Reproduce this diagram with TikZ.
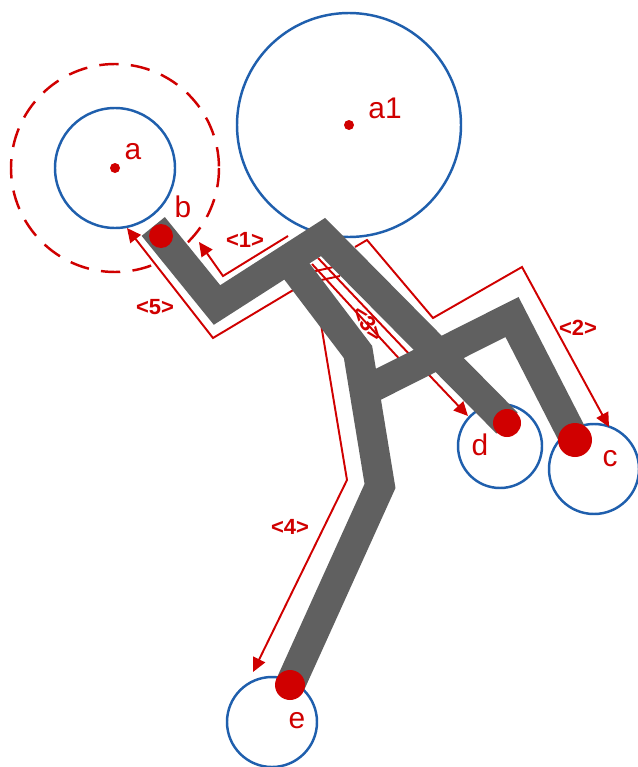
\documentclass[tikz,border=0pt]{standalone}
\usepackage{fontspec}
\setmainfont{Liberation Sans}
\usepackage{tikz}
\usetikzlibrary{backgrounds,arrows.meta}
\definecolor{rtRed}{HTML}{D00000}
\definecolor{rtBlue}{HTML}{1F5FAD}
\definecolor{rtGray}{HTML}{606060}

\begin{document}
\begin{tikzpicture}[
  x=0.02cm, y=-0.02cm,
  zone/.style={draw=rtBlue, line width=1.4pt},
  keepout/.style={draw=rtRed, line width=1.4pt, dash pattern=on 11pt off 7pt},
  wire/.style={draw=rtGray, line width=17pt, line join=miter},
  pad/.style={fill=rtRed},
  pinlbl/.style={text=rtRed, font=\fontsize{17}{20}\selectfont, inner sep=0pt},
  order/.style={-{Triangle[length=8pt,width=7.5pt]}, draw=rtRed, line width=1.1pt, line join=miter},
  ordlbl/.style={text=rtRed, font=\fontsize{12.5}{14}\selectfont\bfseries, inner sep=1pt},
]
\useasboundingbox (0,0) rectangle (637,767);
\fill[white] (0,0) rectangle (637,767);

% ── Pins, zone centres and wire bends ────────────────────────────────────────
\coordinate (pa)  at (115,168);
\coordinate (pa1) at (349,125);
\coordinate (pb)  at (161,236);
\coordinate (pc)  at (575,440);
\coordinate (pd)  at (507,423);
\coordinate (pe)  at (290,685);
\coordinate (zc)  at (594,469);
\coordinate (zd)  at (500,446);
\coordinate (ze)  at (272,722);
\coordinate (jelb)  at (217,305);
\coordinate (jtop)  at (323,237);
\coordinate (jfork) at (289,261);
\coordinate (jknee) at (358,352);
\coordinate (jhip)  at (380,486);
\coordinate (jbar)  at (365,391);
\coordinate (jcor)  at (512,317);

% ── Zones round the pins ─────────────────────────────────────────────────────
\draw[zone] (pa) circle (60);
\draw[keepout] (pa) circle (104);
\draw[zone] (pa1) circle (112);
\draw[zone] (zc) circle (45);
\draw[zone] (zd) circle (42);
\draw[zone] (ze) circle (45);

% ── Routing order (under the wires) ──────────────────────────────────────────
\draw[order] (288,236) -- (223,276) -- (199,242);
\draw[order] (355,247) -- (367,240) -- (433,318) -- (522,267) -- (609,427);
\draw[order] (318,258) -- (468,416);
\draw[rtRed, line width=1.1pt] (312,264) -- (405,365);
\draw[rtRed, line width=1.1pt] (307,273) -- (338,266);
\draw[rtRed, line width=1.1pt] (312,282) -- (340,276);
\draw[order] (317,300) -- (347,480) -- (253,672);
\draw[order] (305,283) -- (213,338) -- (127,228);

% ── Wires ────────────────────────────────────────────────────────────────────
\draw[wire, shorten <=-7pt] (pb) -- (jelb) -- (jtop) -- (pd);
\draw[wire] (jfork) -- (jknee) -- (jhip) -- (pe);
\draw[wire] (jbar) -- (jcor) -- (pc);

\foreach \p/\r in {pb/12,pc/17,pd/14,pe/15}{ \fill[pad] (\p) circle (\r); }
\fill[pad] (pa) circle (5);
\fill[pad] (pa1) circle (5);

% ── Labels ───────────────────────────────────────────────────────────────────
\node[pinlbl] (la)  at (133,152) {a};
\node[pinlbl] (la1) at (385,108) {a1};
\node[pinlbl] (lb)  at (183,207) {b};
\node[pinlbl] (lc)  at (610,459) {c};
\node[pinlbl] (ld)  at (480,445) {d};
\node[pinlbl] (le)  at (297,721) {e};

\node[ordlbl] (o1) at (245,240) {<1>};
\node[ordlbl] (o2) at (578,328) {<2>};
\node[ordlbl, rotate=-52] (o3) at (368,324) {<3>};
\node[ordlbl] (o4) at (290,527) {<4>};
\node[ordlbl] (o5) at (155,307) {<5>};

\end{tikzpicture}
\end{document}
